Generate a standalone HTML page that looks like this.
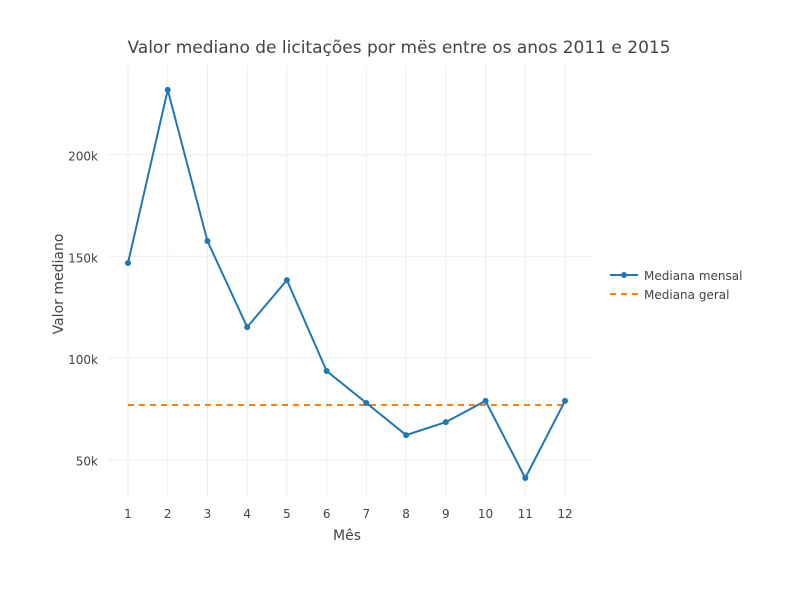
<!DOCTYPE html>
<html><head><meta charset="utf-8"><style>
body{margin:0;background:#fff;font-family:"Liberation Sans","DejaVu Sans",sans-serif;}
svg text{font-family:"DejaVu Sans","Liberation Sans",sans-serif;}
</style></head><body>
<svg id="chart" width="800" height="584" xmlns="http://www.w3.org/2000/svg">
<rect width="800" height="584" fill="#fff"/>
<text x="399" y="53" text-anchor="middle" font-size="17" fill="#444">Valor mediano de licitações por mës entre os anos 2011 e 2015</text>
<g id="grid"></g>
<g id="marks"></g>
<g id="axes"></g>
<text x="347" y="540" text-anchor="middle" font-size="14" fill="#444">Mês</text>
<text transform="translate(63,284) rotate(-90)" text-anchor="middle" font-size="14" fill="#444">Valor mediano</text>
<g>
<g>
<line x1="610" y1="275" x2="638" y2="275" stroke="#1f77b4" stroke-width="2"/>
<circle cx="624" cy="275" r="3" fill="#1f77b4"/>
<text x="644" y="280" font-size="12" fill="#444">Mediana mensal</text></g>
<g>
<line x1="610" y1="294" x2="638" y2="294" stroke="#ff7f0e" stroke-width="2" stroke-dasharray="6,5"/>
<text x="644" y="299" font-size="12" fill="#444">Mediana geral</text></g>
</g>
</svg>
<script>
const months=[1,2,3,4,5,6,7,8,9,10,11,12];
const medians=[146700,231800,157500,115200,138300,93600,77900,62100,68500,78900,41000,78900];
const overallMedian=76900;
const yTicks=[50000,100000,150000,200000];
const yTickLabels=["50k","100k","150k","200k"];
const NS="http://www.w3.org/2000/svg";
const X=m=>128+(m-1)*(565-128)/11;
const Y=v=>358-(v-100000)*101.7/50000;
function el(t,a,p){const e=document.createElementNS(NS,t);for(const k in a)e.setAttribute(k,a[k]);document.getElementById(p).appendChild(e);return e;}
months.forEach((m,i)=>{
 const g=el('line',{x1:X(m),x2:X(m),y1:65,y2:497,stroke:'#eee','stroke-width':1},'grid');
 
 
 const t=el('text',{x:X(m),y:518,'text-anchor':'middle','font-size':12,fill:'#444'},'axes');
 t.textContent=m;
 
 
});
yTicks.forEach((v,i)=>{
 const g=el('line',{x1:108,x2:594,y1:Y(v),y2:Y(v),stroke:'#eee','stroke-width':1},'grid');
 
 
 const t=el('text',{x:98,y:Y(v)+6,'text-anchor':'end','font-size':12,fill:'#444'},'axes');
 t.textContent=yTickLabels[i];
 
 
});
const ml=el('line',{x1:X(months[0]),x2:X(months[months.length-1]),y1:Y(overallMedian),y2:Y(overallMedian),stroke:'#ff7f0e','stroke-width':2,'stroke-dasharray':'6,5'},'marks');


const pl=el('polyline',{points:months.map((m,i)=>X(m)+','+Y(medians[i])).join(' '),fill:'none',stroke:'#1f77b4','stroke-width':2},'marks');


months.forEach((m,i)=>{
 const c=el('circle',{cx:X(m),cy:Y(medians[i]),r:3,fill:'#1f77b4'},'marks');
 
 
});
</script>
</body></html>
